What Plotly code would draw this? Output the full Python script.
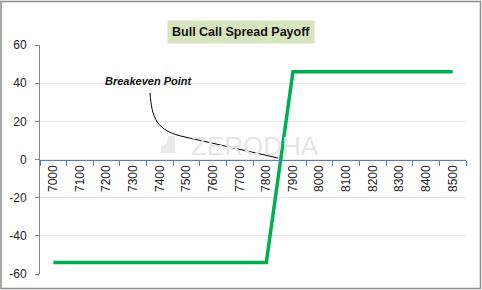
import plotly.graph_objects as go

strikes = [str(s) for s in range(7000, 8501, 100)]
payoff = [-54, -54, -54, -54, -54, -54, -54, -54, -54, 46, 46, 46, 46, 46, 46, 46]
y_ticks = [-60, -40, -20, 0, 20, 40, 60]
y_labels = [str(v) for v in y_ticks]

title_text = "Bull Call Spread Payoff"
note_text = "Breakeven Point"

W, H = 482, 290
L, R, T, B = 40, 16, 45, 16
PW, PH = W - L - R, H - T - B


def px(x):
    return (x - L) / PW


def py(y):
    return (H - B - y) / PH


fig = go.Figure()
fig.add_trace(go.Scatter(
    x=strikes, y=payoff, mode="lines",
    line=dict(color="#00b050", width=3.5),
    showlegend=False, hoverinfo="skip",
))

fig.update_layout(
    width=W, height=H,
    margin=dict(l=L, r=R, t=T, b=B, autoexpand=False),
    paper_bgcolor="white", plot_bgcolor="white",
    font=dict(family="Liberation Sans, Arial, sans-serif", size=12, color="#222"),
    xaxis=dict(
        type="category", anchor="free", position=0.5,
        showline=True, linecolor="#4f81bd", linewidth=1,
        ticks="outside", tickson="boundaries", ticklen=5, tickcolor="#4f81bd",
        tickangle=-90, tickfont=dict(size=12, color="#222"),
        showgrid=False, zeroline=False, fixedrange=True, automargin=False,
        range=[-0.5, len(strikes) - 0.5],
    ),
    yaxis=dict(
        range=[-60, 60], tickvals=y_ticks, ticktext=y_labels,
        showline=True, linecolor="#868686", linewidth=1,
        ticks="outside", ticklen=4, tickcolor="#868686",
        ticklabelstandoff=6, automargin=False,
        showgrid=True, gridcolor="#e9e9e9", gridwidth=1,
        zeroline=False, tickfont=dict(size=12, color="#222"),
    ),
)

# Watermark
fig.add_shape(type="path", xref="paper", yref="paper",
              path=f"M {px(161)},{py(153)} L {px(175)},{py(153)} L {px(175)},{py(136)} L {px(168)},{py(136)} Q {px(168)},{py(146)} {px(161)},{py(146)} Z",
              fillcolor="#ebebeb", line=dict(width=0), layer="below")
fig.add_annotation(text="ZERODHA", xref="paper", yref="paper",
                   x=px(255), y=py(146), xanchor="center", showarrow=False,
                   font=dict(family="Liberation Sans, Arial", size=26, color="#e6e6e6"))

# Title
fig.add_annotation(text="<b>" + title_text + "</b>", xref="paper", yref="paper",
                   x=px(240.5), y=py(20), xanchor="center", showarrow=False,
                   bgcolor="#d7e4bd", borderpad=4,
                   font=dict(size=12.5, color="#111"))

# Breakeven label and curve
fig.add_annotation(text="<b><i>" + note_text + "</i></b>", xref="paper", yref="paper",
                   x=px(103), y=py(73), xanchor="left", showarrow=False,
                   font=dict(size=11, color="#111"))
fig.add_shape(type="path", xref="paper", yref="paper",
              path=(f"M {px(150)},{py(93)} C {px(152)},{py(118)} {px(156)},{py(131)} {px(185)},{py(137)} "
                    f"L {px(278)},{py(158)}"),
              line=dict(color="black", width=1))

# Outer border
fig.add_shape(type="rect", xref="paper", yref="paper",
              x0=px(1), x1=px(480.5), y0=py(288.5), y1=py(1.5),
              line=dict(color="#8c8c8c", width=1.5), layer="above")

fig.write_html("out.html")
